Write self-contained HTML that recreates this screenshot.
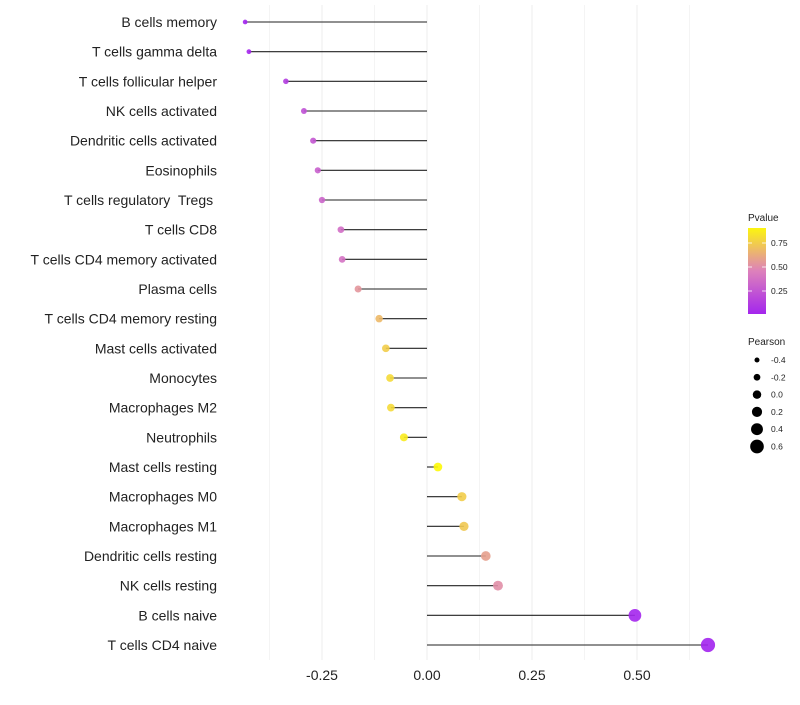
<!DOCTYPE html>
<html><head><meta charset="utf-8"><style>
body{margin:0;background:#fff;font-family:"Liberation Sans",sans-serif}
svg text{font-family:"Liberation Sans",sans-serif;white-space:pre}
</style></head><body>
<svg id="c" width="800" height="700"></svg>
<script>
const categories=["B cells memory","T cells gamma delta","T cells follicular helper","NK cells activated","Dendritic cells activated","Eosinophils","T cells regulatory  Tregs ","T cells CD8","T cells CD4 memory activated","Plasma cells","T cells CD4 memory resting","Mast cells activated","Monocytes","Macrophages M2","Neutrophils","Mast cells resting","Macrophages M0","Macrophages M1","Dendritic cells resting","NK cells resting","B cells naive","T cells CD4 naive"];
const pearson=[-0.433,-0.424,-0.336,-0.293,-0.271,-0.26,-0.25,-0.205,-0.202,-0.164,-0.114,-0.098,-0.088,-0.086,-0.055,0.026,0.083,0.088,0.14,0.169,0.495,0.669];
const pvalue=[0.02,0.03,0.15,0.25,0.28,0.32,0.35,0.4,0.42,0.58,0.72,0.8,0.85,0.85,0.92,0.98,0.8,0.78,0.62,0.55,0.03,0.02];
const xTicks=[-0.25,0,0.25,0.5];
const xTickLabels=["-0.25","0.00","0.25","0.50"];
const pTicks=[0.25,0.5,0.75];
const sizeLegend=[-0.4,-0.2,0,0.2,0.4,0.6];

const NS="http://www.w3.org/2000/svg";
const svg=document.getElementById('c');
function mk(t,a,p){const e=document.createElementNS(NS,t);for(const k in a)e.setAttribute(k,a[k]);(p||svg).appendChild(e);return e;}
const x=v=>427+v*420;
const y=i=>22+i*(623/21);
const r=v=>2.3+(v+0.45)*4.3;
function lerp(a,b,t){return a.map((c,i)=>Math.round(c+(b[i]-c)*t));}
function col(p){const s=[[160,32,240],[222,130,186],[255,255,0]];let c=p<0.5?lerp(s[0],s[1],p/0.5):lerp(s[1],s[2],(p-0.5)/0.5);return `rgb(${c})`;}
for(let v=-0.375;v<=0.63;v+=0.125){
 const g=mk('line',{x1:x(v),x2:x(v),y1:5,y2:660,stroke:'#ececec','stroke-width':Math.abs(v*8%2)<1e-6?1:0.6});
 
 
}
xTicks.forEach((v,i)=>{
 const t=mk('text',{x:x(v),y:680,'text-anchor':'middle','font-size':14,fill:'#222'});t.textContent=xTickLabels[i];
 
 
});
categories.forEach((c,i)=>{
 const t=mk('text',{x:217,y:y(i)+5,'text-anchor':'end','font-size':14,fill:'#222'});t.textContent=c;
 
 
 const l=mk('line',{x1:x(0),x2:x(pearson[i]),y1:y(i),y2:y(i),stroke:'#222','stroke-width':1.1});
 
 
 const d=mk('circle',{cx:x(pearson[i]),cy:y(i),r:r(pearson[i]),fill:col(pvalue[i]),opacity:0.9});
 
 
});
const t1=mk('text',{x:748,y:221,'font-size':10,fill:'#222'});t1.textContent='Pvalue';


const defs=mk('defs',{});const gr=mk('linearGradient',{id:'g',x1:0,y1:1,x2:0,y2:0},defs);
for(let k=0;k<=10;k++){mk('stop',{offset:k/10,'stop-color':col(0.03+k*0.093)},gr);}
const bar=mk('rect',{x:748,y:228,width:18,height:86,fill:'url(#g)'});


const py=p=>315-p*96;
pTicks.forEach(p=>{
 mk('line',{x1:748,x2:752,y1:py(p),y2:py(p),stroke:'#fff','stroke-width':0.8});
 mk('line',{x1:762,x2:766,y1:py(p),y2:py(p),stroke:'#fff','stroke-width':0.8});
 const t=mk('text',{x:771,y:py(p)+3,'font-size':8.5,fill:'#222'});t.textContent=p.toFixed(2);
 
 
});
const t2=mk('text',{x:748,y:345,'font-size':10,fill:'#222'});t2.textContent='Pearson';


sizeLegend.forEach((v,i)=>{
 const cy=360+i*17.3;
 const c=mk('circle',{cx:757,cy:cy,r:r(v)*1.0,fill:'#000'});
 
 
 const t=mk('text',{x:771,y:cy+3,'font-size':8.5,fill:'#222'});t.textContent=v.toFixed(1);
 
 
});
</script>
</body></html>
